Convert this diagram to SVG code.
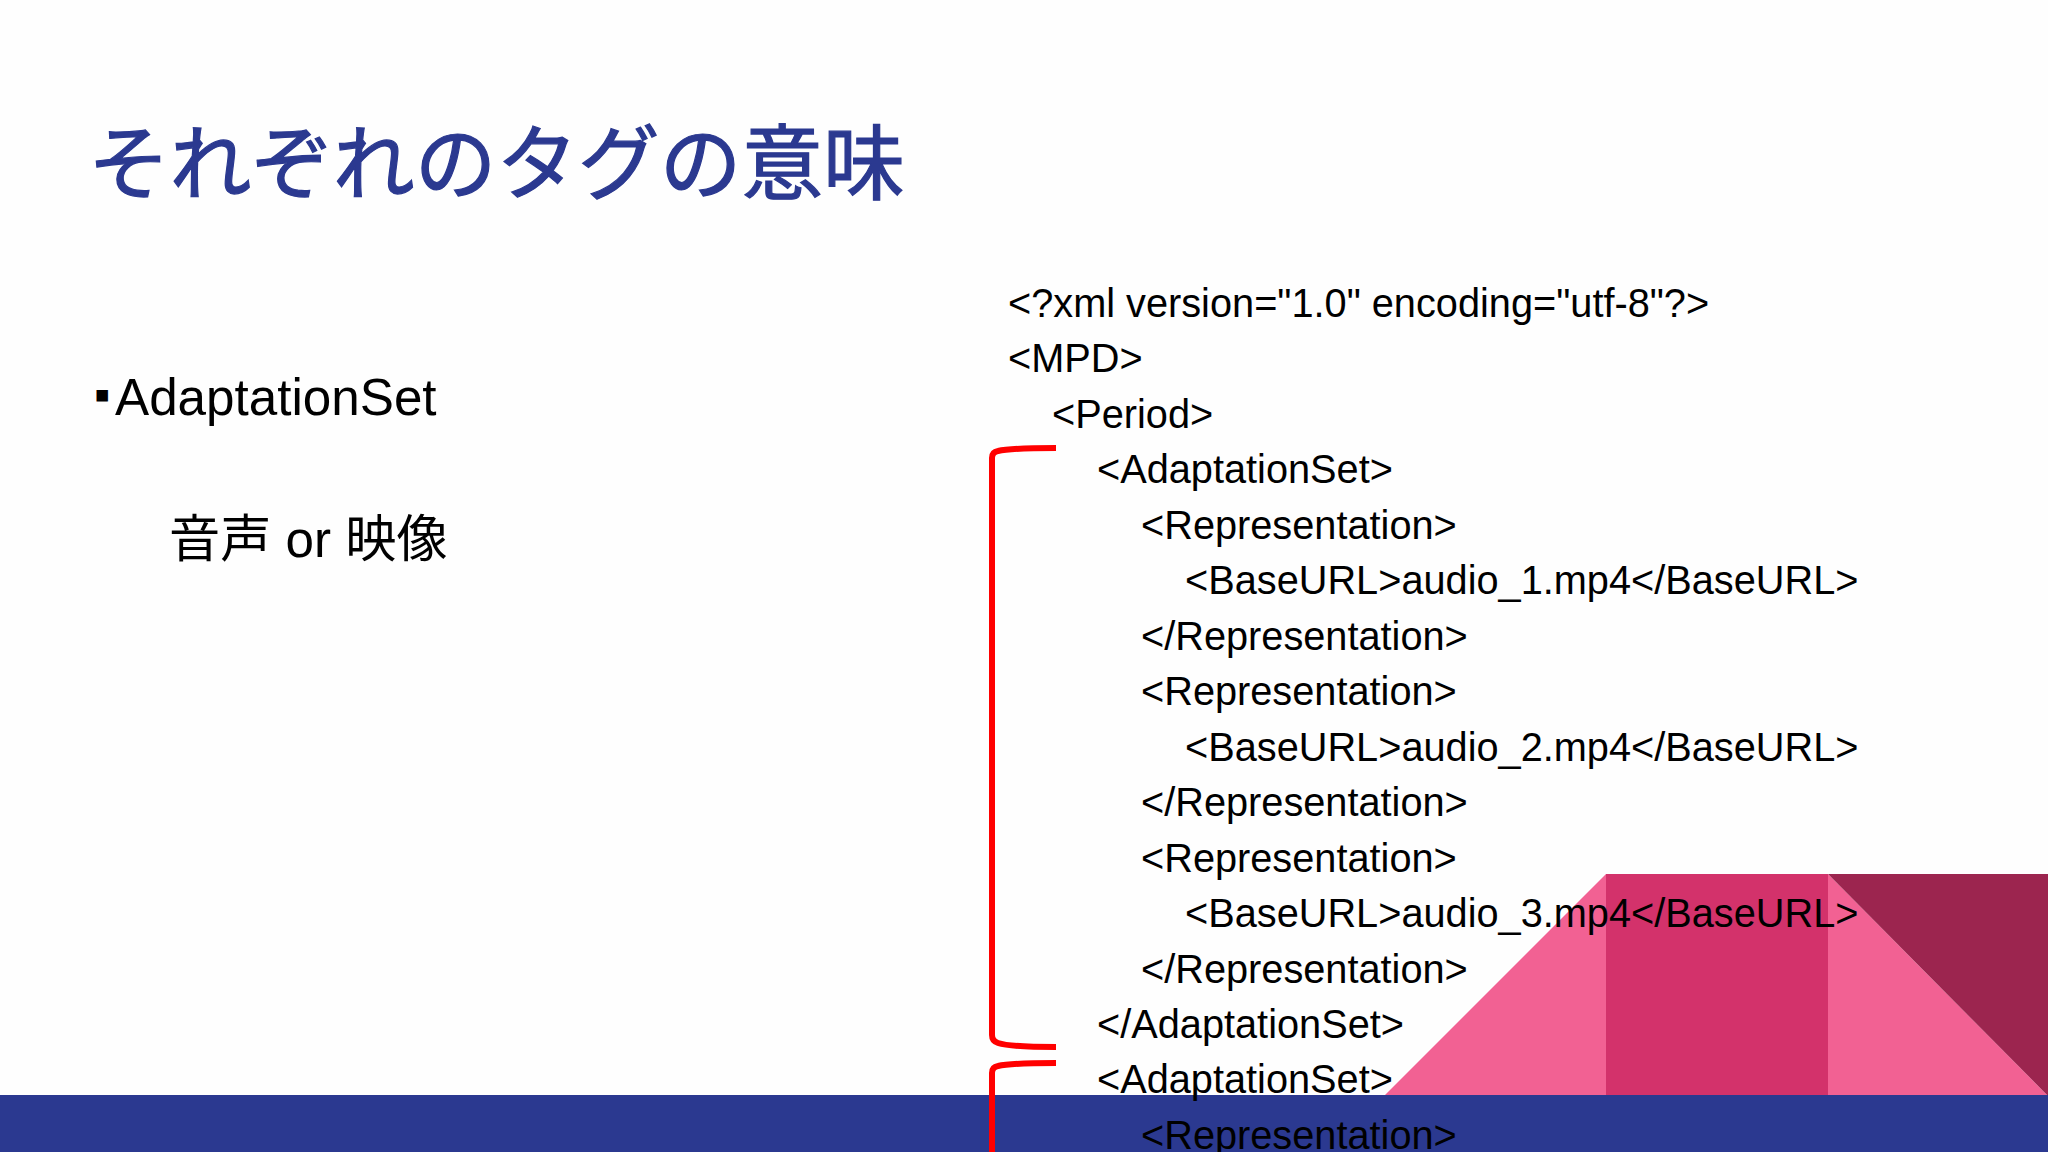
<svg xmlns="http://www.w3.org/2000/svg" width="2048" height="1152" viewBox="0 0 2048 1152">
<style>
text{font-family:"Liberation Sans","Noto Sans CJK JP",sans-serif;fill:#000}
.c{font-size:39.72px}
.b{font-size:51.2px}
.t{font-size:81.7px;fill:#2b3990;stroke:#2b3990;stroke-width:1.2px;font-family:"Noto Sans CJK JP","Liberation Sans",sans-serif}
.br{fill:none;stroke:#ff0000;stroke-width:6}
</style>
<rect width="2048" height="1152" fill="#fefefe"/>
<g id="decoration">
<polygon points="1384,1096 1606,874 1828,874 2048,1096" fill="#f26193"/>
<rect x="1606" y="874" width="222" height="222" fill="#d3326b"/>
<polygon points="1828,874 2048,874 2048,1096" fill="#9c254f"/>
<rect y="1095" width="2048" height="57" fill="#2b3990"/>
</g>
<text id="title" class="t" x="88" y="193">それぞれのタグの意味</text>
<g id="left">
<text class="b" x="94" y="415"><tspan font-size="46" dy="-5">▪</tspan><tspan x="115" dy="5">AdaptationSet</tspan></text>
<text class="b" x="169" y="557" font-size="51">音声 or 映像</text>
</g>
<g id="code">
<text class="c" x="1008" y="316.6">&lt;?xml version="1.0" encoding="utf-8"?&gt;</text>
<text class="c" x="1008" y="372">&lt;MPD&gt;</text>
<text class="c" x="1052" y="427.5">&lt;Period&gt;</text>
<text class="c" x="1097" y="483">&lt;AdaptationSet&gt;</text>
<text class="c" x="1141" y="538.5">&lt;Representation&gt;</text>
<text class="c" x="1185" y="594">&lt;BaseURL&gt;audio_1.mp4&lt;/BaseURL&gt;</text>
<text class="c" x="1141" y="649.5">&lt;/Representation&gt;</text>
<text class="c" x="1141" y="705">&lt;Representation&gt;</text>
<text class="c" x="1185" y="760.5">&lt;BaseURL&gt;audio_2.mp4&lt;/BaseURL&gt;</text>
<text class="c" x="1141" y="816">&lt;/Representation&gt;</text>
<text class="c" x="1141" y="871.5">&lt;Representation&gt;</text>
<text class="c" x="1185" y="927">&lt;BaseURL&gt;audio_3.mp4&lt;/BaseURL&gt;</text>
<text class="c" x="1141" y="982.5">&lt;/Representation&gt;</text>
<text class="c" x="1097" y="1037.5">&lt;/AdaptationSet&gt;</text>
<text class="c" x="1097" y="1093">&lt;AdaptationSet&gt;</text>
<text class="c" x="1141" y="1148.5">&lt;Representation&gt;</text>
</g>
<g id="brackets">
<path class="br" d="M1056,448 Q1010,448 998,451 Q992,452 992,458 V1035 Q992,1041 998,1043 Q1010,1047 1056,1047"/>
<path class="br" d="M1056,1063 Q1010,1063 998,1066 Q992,1067 992,1073 V1152"/>
</g>
</svg>
